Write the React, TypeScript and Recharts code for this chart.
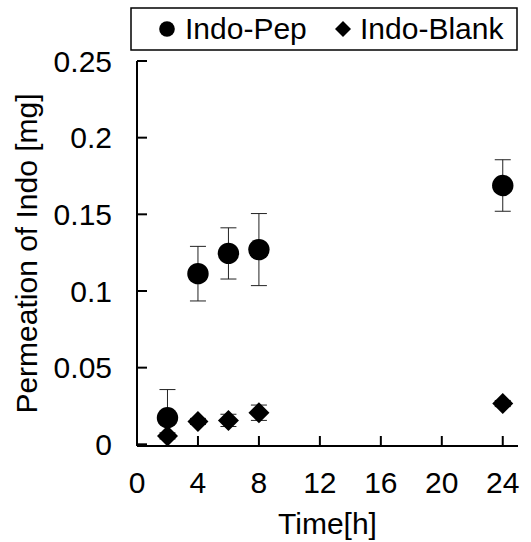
import {
  ErrorBar,
  Legend,
  Scatter,
  ScatterChart,
  XAxis,
  YAxis,
} from "recharts";

// sampling times [h]
const times = [2, 4, 6, 8, 24];

// Indo-Pep: mean permeation [mg] and error
const pepMean = [0.0173, 0.1113, 0.1245, 0.127, 0.1688];
const pepErr = [0.0184, 0.0178, 0.0167, 0.0235, 0.0168];

// Indo-Blank
const blankMean = [0.0055, 0.0149, 0.0156, 0.0206, 0.0266];
const blankErr = [0.002, 0.002, 0.004, 0.005, 0.002];

const xTicks = [0, 4, 8, 12, 16, 20, 24];
const yTicks = [0, 0.05, 0.1, 0.15, 0.2, 0.25];
const seriesNames = ["Indo-Pep", "Indo-Blank"];

const FONT = '"Liberation Sans", Arial, sans-serif';
const FS = 30;
const X_GAP = 26;
const Y_GAP = 25;
const TICK_LEN = 10;

const pepData = times.map((t, i) => ({ t, v: pepMean[i], err: pepErr[i] }));
const blankData = times.map((t, i) => ({ t, v: blankMean[i], err: blankErr[i] }));

function CircleDot(props: any) {
  const { cx, cy } = props;
  return <circle cx={cx} cy={cy} r={10.7} fill="#000" />;
}

function DiamondDot(props: any) {
  const { cx, cy } = props;
  const s = 10.5;
  return (
    <path
      d={`M${cx},${cy - s}L${cx + s},${cy}L${cx},${cy + s}L${cx - s},${cy}Z`}
      fill="#000"
    />
  );
}

// ticks point inward, so draw the tick line together with the label
function XTick(props: any) {
  const { x, y, payload } = props;
  const axisY = y - X_GAP;
  return (
    <g>
      <line x1={x} x2={x} y1={axisY} y2={axisY - TICK_LEN} stroke="#000" strokeWidth={2} />
      <text x={x} y={y} dy="0.71em" textAnchor="middle" fontSize={FS} fill="#000" fontFamily={FONT}>
        {payload.value}
      </text>
    </g>
  );
}

function YTick(props: any) {
  const { x, y, payload } = props;
  const axisX = x + Y_GAP;
  return (
    <g>
      <line x1={axisX} x2={axisX + TICK_LEN} y1={y} y2={y} stroke="#000" strokeWidth={2} />
      <text x={x} y={y} dy="0.355em" textAnchor="end" fontSize={FS} fill="#000" fontFamily={FONT}>
        {String(payload.value)}
      </text>
    </g>
  );
}

function LegendBox() {
  // boxed legend sitting above the plot
  return (
    <svg width={388} height={44} style={{ display: "block", fontFamily: FONT }}>
      <rect x={1} y={1} width={386} height={42} fill="#fff" stroke="#000" strokeWidth={1.5} />
      <circle cx={37} cy={22} r={7.8} fill="#000" />
      <text x={55} y={32} fontSize={FS} fill="#000">
        {seriesNames[0]}
      </text>
      <path d="M213,14L221,22L213,30L205,22Z" fill="#000" />
      <text x={230} y={32} fontSize={FS} fill="#000">
        {seriesNames[1]}
      </text>
    </svg>
  );
}

function YLabel(props: any) {
  const vb = props.viewBox ?? { x: 0, y: 61, width: 137, height: 385 };
  const x = vb.x + 37;
  const y = vb.y + vb.height / 2;
  return (
    <text
      x={x}
      y={y}
      transform={`rotate(-90, ${x}, ${y})`}
      textAnchor="middle"
      fontSize={FS}
      fill="#000"
      fontFamily={FONT}
    >
      Permeation of Indo [mg]
    </text>
  );
}

export default function App() {
  return (
    <div>
      <style>{"body{margin:0}"}</style>
      <ScatterChart
        width={531}
        height={542}
        margin={{ top: 61, right: 13, bottom: 0, left: 0 }}
        style={{ fontFamily: FONT }}
      >
        <XAxis
          type="number"
          dataKey="t"
          domain={[0, 25]}
          ticks={xTicks}
          interval={0}
          height={96}
          tickSize={0}
          tickMargin={X_GAP}
          axisLine={{ stroke: "#000", strokeWidth: 2 }}
          tickLine={false}
          tick={<XTick />}
          label={{ value: "Time[h]", position: "insideBottom", offset: 8, fill: "#000", fontSize: FS }}
        />
        {/* top and right axes only close the plot frame */}
        <XAxis
          xAxisId="top"
          orientation="top"
          type="number"
          dataKey="t"
          domain={[0, 25]}
          height={0}
          tick={false}
          tickLine={false}
          axisLine={{ stroke: "#000", strokeWidth: 2 }}
        />
        <YAxis
          type="number"
          dataKey="v"
          domain={[0, 0.25]}
          ticks={yTicks}
          interval={0}
          width={137}
          tickSize={0}
          tickMargin={Y_GAP}
          axisLine={{ stroke: "#000", strokeWidth: 2 }}
          tickLine={false}
          tick={<YTick />}
          label={<YLabel />}
        />
        <YAxis
          yAxisId="right"
          orientation="right"
          type="number"
          dataKey="v"
          domain={[0, 0.25]}
          width={0}
          tick={false}
          tickLine={false}
          axisLine={{ stroke: "#000", strokeWidth: 2 }}
        />
        <Legend
          layout="horizontal"
          verticalAlign="middle"
          align="center"
          wrapperStyle={{ top: 7, left: 130, width: 388, height: 44 }}
          content={() => <LegendBox />}
        />
        <Scatter name={seriesNames[0]} data={pepData} shape={<CircleDot />} isAnimationActive={false}>
          <ErrorBar dataKey="err" direction="y" width={8} stroke="#222" strokeWidth={1} />
        </Scatter>
        <Scatter name={seriesNames[1]} data={blankData} shape={<DiamondDot />} isAnimationActive={false}>
          <ErrorBar dataKey="err" direction="y" width={8} stroke="#222" strokeWidth={1} />
        </Scatter>
      </ScatterChart>
    </div>
  );
}
